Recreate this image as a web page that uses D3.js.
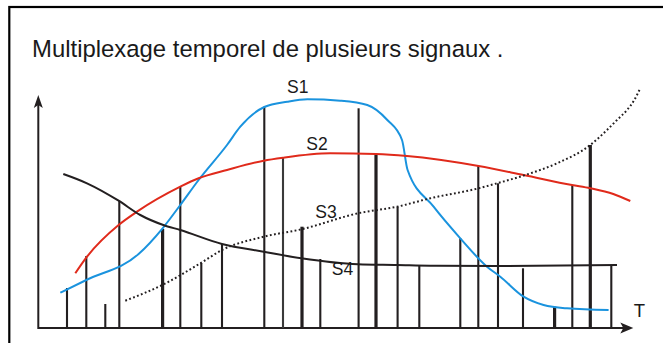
<!DOCTYPE html>
<html>
<head>
<meta charset="utf-8">
<script src="https://cdn.jsdelivr.net/npm/d3@7/dist/d3.min.js"></script>
<style>
  html, body { margin: 0; padding: 0; background: #fff; }
  svg { display: block; }
  text { font-family: "Liberation Sans", Arial, sans-serif; fill: #1a1a1a; }
</style>
</head>
<body>
<svg id="chart" width="663" height="343"></svg>
<script>
// ---- Data (time t, amplitude v) ----
const title = "Multiplexage temporel de plusieurs signaux .";
const seriesNames = ["S1", "S2", "S3", "S4"];
const axisLabel = "T";

const s1 = [[22,35.3],[48,48],[100.3,74],[124.3,99.7],[142,123],[160.3,148],[188.7,183],[202,201.3],[226,221],[249,226.3],[269,228.7],[302,227.3],[329,223],[349,208],[363.7,188],[369.3,158],[395.3,121.3],[422,89.7],[448.7,61.3],[462,51.3],[485.3,31.3],[505.3,23],[528.7,19.7],[570.3,18]];
const s2 = [[37,54.7],[48.7,71.3],[80.3,103],[98.7,116.3],[142,141.3],[160.3,149.7],[188.7,158],[225.3,167.3],[244.7,170.3],[292,174.7],[337.7,174],[368.7,172],[440.3,162],[485.3,153],[533.7,143],[552,139.7],[575,134],[592,127]];
const s3 = [[87,27.3],[125.3,43.7],[162,64.7],[183.7,78],[225.3,91.3],[263,98.7],[319.7,114.7],[358.7,121.3],[392,129.7],[440.3,139.7],[458.7,144.7],[487,153],[518.7,164.7],[552,183],[568.7,198],[578.7,208],[588.7,218],[596,228],[602,240]];
const s4 = [[25,154],[48.7,144.7],[80.3,127.3],[102,113],[125,103],[142,98],[183.7,84],[225.3,76.3],[263,69.7],[319.7,63.7],[358.7,63],[392,62.3],[458.7,62],[578.7,63]];

// Samples (multiplexed bars): time and sampled amplitude
const sampleT = [28.7,48,67,81,124.3,142,163,183.7,226,244.7,263.7,282,320.3,337.7,359.3,381,422,440,459.7,484.7,516.3,534,552,573];
const sampleV = [40,72,24,127,99,141.3,65,84,221.3,170.3,101.3,69,219.7,174,121.3,63,89.7,162,144.7,59.7,21.3,143,183,62.3];

const xMax = 595;   // arrow tip of time axis
const yMax = 233;   // arrow tip of amplitude axis

// ---- Drawing ----
const svg = d3.select("#chart");
const x = d3.scaleLinear().domain([0, 600]).range([38.3, 638.3]);
const y = d3.scaleLinear().domain([0, 240]).range([328, 88]);

const ink = "#231f20";

// frame (top and left edges visible)
svg.append("rect")
  .attr("x", 9.3).attr("y", 7).attr("width", 720).attr("height", 420)
  .attr("fill", "none").attr("stroke", "#000").attr("stroke-width", 2.2);

svg.append("text")
  .attr("x", 32).attr("y", 56.7)
  .attr("font-size", "23.9px")
  .text(title);

// axes
const g = svg.append("g");
g.append("line")
  .attr("x1", x(0)).attr("x2", x(xMax) - 8)
  .attr("y1", y(0)).attr("y2", y(0))
  .attr("stroke", ink).attr("stroke-width", 2.2);
g.append("line")
  .attr("x1", x(0)).attr("x2", x(0))
  .attr("y1", y(0) + 1).attr("y2", y(yMax) + 8)
  .attr("stroke", ink).attr("stroke-width", 2);
g.append("path")
  .attr("d", `M${x(xMax)},${y(0)} L${x(xMax) - 13},${y(0) - 5.5} L${x(xMax) - 10},${y(0)} L${x(xMax) - 13},${y(0) + 5.5} Z`)
  .attr("fill", ink);
g.append("path")
  .attr("d", `M${x(0)},${y(yMax)} L${x(0) - 4.5},${y(yMax) + 13} L${x(0)},${y(yMax) + 10} L${x(0) + 4.5},${y(yMax) + 13} Z`)
  .attr("fill", ink);

// sample bars
const thick = new Set([4, 10, 13, 20, 22]);
g.selectAll("line.bar")
  .data(sampleT.map((t, i) => ({ t, v: sampleV[i], i })))
  .join("line")
  .attr("class", "bar")
  .attr("x1", d => x(d.t)).attr("x2", d => x(d.t))
  .attr("y1", y(0)).attr("y2", d => y(d.v))
  .attr("stroke", d => d.i === 9 ? "#3a3a3a" : ink)
  .attr("stroke-width", d => thick.has(d.i) ? 3.2 : 2.1);

// curves
const line = d3.line().x(d => x(d[0])).y(d => y(d[1])).curve(d3.curveMonotoneX);
const curves = [
  { data: s1, color: "#1a93de", dash: null },
  { data: s2, color: "#e02a1b", dash: null },
  { data: s3, color: "#231f20", dash: "1.8,2.4" },
  { data: s4, color: "#231f20", dash: null }
];
g.selectAll("path.curve")
  .data(curves)
  .join("path")
  .attr("class", "curve")
  .attr("d", d => line(d.data))
  .attr("fill", "none")
  .attr("stroke", d => d.color)
  .attr("stroke-width", 2)
  .attr("stroke-dasharray", d => d.dash);

// series labels (position in data units: t, v of baseline)
const labelPos = [[248.7, 234.7], [268, 178], [277, 110], [293.5, 53]];
svg.selectAll("text.lbl")
  .data(seriesNames)
  .join("text")
  .attr("class", "lbl")
  .attr("x", (d, i) => x(labelPos[i][0]))
  .attr("y", (d, i) => y(labelPos[i][1]))
  .attr("font-size", "17.5px")
  .text(d => d);

svg.append("text")
  .attr("x", x(xMax) + 0.5).attr("y", 316.7)
  .attr("font-size", "18.5px")
  .text(axisLabel);
</script>
</body>
</html>
